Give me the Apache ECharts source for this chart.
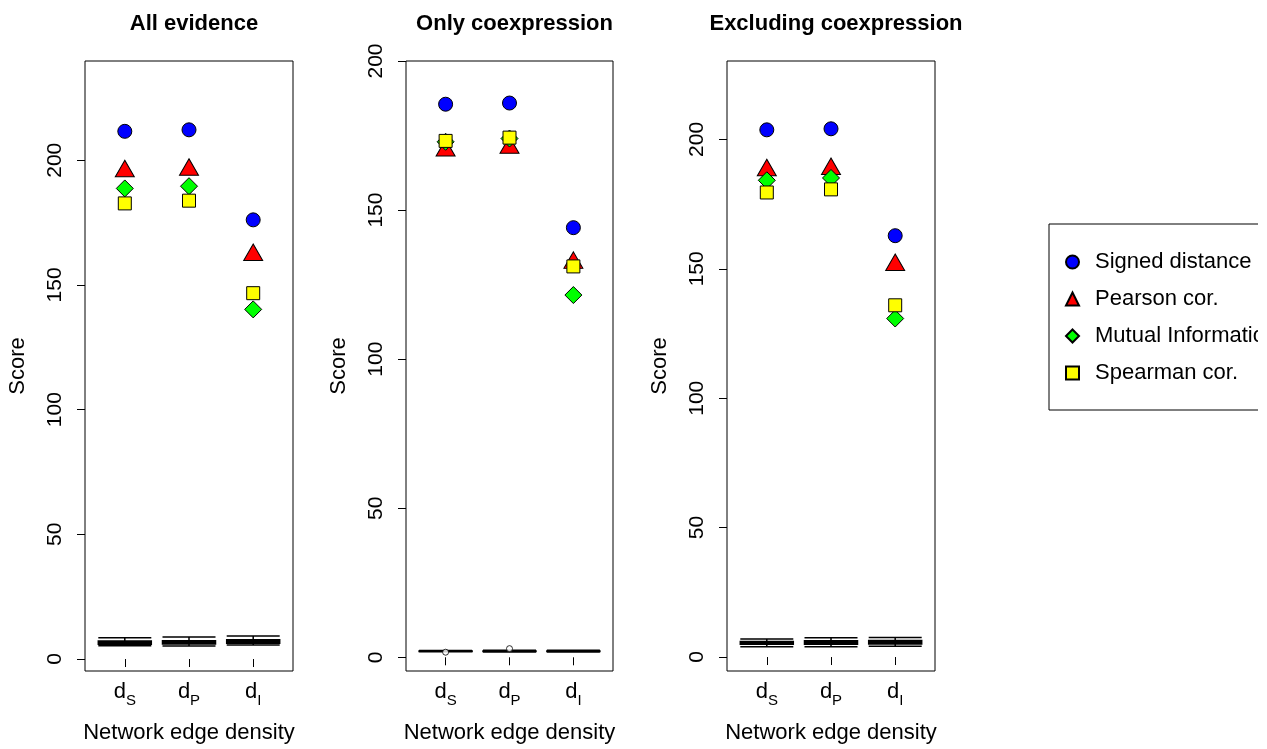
<!DOCTYPE html>
<html>
<head>
<meta charset="utf-8">
<script src="https://cdn.jsdelivr.net/npm/echarts@6/dist/echarts.min.js"></script>
<style>
  html, body { margin: 0; padding: 0; background: #fff; }
  #chart { width: 1267px; height: 749px; }
</style>
</head>
<body>
<div id="chart"></div>
<script>
  // categories on the x axis (edge density subscripts) and their positions
  const densitySubs = ['S', 'P', 'I']
  const xPos = [1, 2, 3]
  const yTicks = [0, 50, 100, 150, 200]

  const panelTitles = ['All evidence', 'Only coexpression', 'Excluding coexpression']
  const methodNames = ['Signed distance', 'Pearson cor.', 'Mutual Information', 'Spearman cor.']

  // scores, panel 1
  const allSigned = [211.6, 212.2, 176.1]
  const allPearson = [195.6, 196.2, 162.0]
  const allMutual = [188.7, 189.6, 140.2]
  const allSpearman = [182.7, 183.8, 146.7]
  // panel 2
  const coexSigned = [185.5, 185.9, 144.1]
  const coexPearson = [170.0, 170.9, 132.3]
  const coexMutual = [172.9, 174.0, 121.5]
  const coexSpearman = [173.2, 174.3, 131.1]
  // panel 3
  const exclSigned = [203.7, 204.1, 162.8]
  const exclPearson = [188.1, 188.6, 151.5]
  const exclMutual = [184.2, 185.1, 130.8]
  const exclSpearman = [179.5, 180.7, 135.9]

  // random network boxplots: min, Q1, median, Q3, max
  const allBoxes = [[5.3, 5.9, 6.5, 7.2, 8.5], [5.2, 6.0, 6.6, 7.3, 8.8], [5.6, 6.3, 7.0, 7.7, 9.2]]
  const coexBoxes = [[1.85, 1.95, 2.05, 2.15, 2.3], [1.8, 1.95, 2.05, 2.15, 2.35], [1.8, 1.95, 2.05, 2.15, 2.35]]
  const coexOutliers = [[1, 1.7], [2, 2.9]]
  const exclBoxes = [[4.0, 4.9, 5.5, 6.0, 7.0], [4.0, 4.9, 5.6, 6.3, 7.4], [4.2, 5.0, 5.8, 6.4, 7.5]]

  const font = '"Liberation Sans", Arial, Helvetica, sans-serif'

  const panels = [
    { scores: [allSigned, allPearson, allMutual, allSpearman], boxes: allBoxes, outliers: [],
      left: 85, width: 208, yMin: -4.8, yMax: 239.8 },
    { scores: [coexSigned, coexPearson, coexMutual, coexSpearman], boxes: coexBoxes, outliers: coexOutliers,
      left: 406, width: 207, yMin: -4.6, yMax: 200 },
    { scores: [exclSigned, exclPearson, exclMutual, exclSpearman], boxes: exclBoxes, outliers: [],
      left: 727, width: 208, yMin: -5.4, yMax: 230.3 }
  ]

  const markers = [
    { symbol: 'circle', size: 14, color: '#0000ff', offset: [0, 0] },
    { symbol: 'triangle', size: [19, 16.5], color: '#ff0000', offset: [0, -2.7] },
    { symbol: 'diamond', size: 17, color: '#00ff00', offset: [0, 0] },
    { symbol: 'rect', size: 13, color: '#ffff00', offset: [0, 0] }
  ]

  const grid = []
  const xAxis = []
  const yAxis = []
  const series = []
  const title = []

  panels.forEach((p, i) => {
    grid.push({
      left: p.left, top: 61, width: p.width, height: 613,
      show: true, borderColor: '#000', borderWidth: 1, backgroundColor: 'transparent'
    })
    title.push({
      text: panelTitles[i],
      left: p.left + p.width / 2, top: 8, textAlign: 'center',
      textStyle: { fontFamily: font, fontSize: 22, fontWeight: 'bold', color: '#000' }
    })
    xAxis.push({
      gridIndex: i, type: 'value', min: 0.38, max: 3.62,
      name: 'Network edge density', nameLocation: 'middle', nameGap: 51,
      nameTextStyle: { fontFamily: font, fontSize: 22, color: '#000' },
      axisLine: { show: false },
      splitLine: { show: false },
      axisTick: { show: true, length: 8, customValues: xPos, lineStyle: { color: '#000' } },
      axisLabel: {
        customValues: xPos, margin: 4,
        formatter: v => '{d|d}{s|' + densitySubs[v - 1] + '}',
        rich: {
          d: { fontFamily: font, fontSize: 22, color: '#000' },
          s: { fontFamily: font, fontSize: 15, color: '#000', padding: [18, 0, 0, 0] }
        }
      }
    })
    yAxis.push({
      gridIndex: i, type: 'value', min: p.yMin, max: p.yMax,
      name: 'Score', nameLocation: 'middle', nameGap: 56, nameRotate: 90,
      nameTextStyle: { fontFamily: font, fontSize: 22, color: '#000' },
      axisLine: { show: false },
      splitLine: { show: false },
      axisTick: { show: true, length: 8, customValues: yTicks, lineStyle: { color: '#000' } },
      axisLabel: {
        customValues: yTicks, rotate: 90, margin: 19,
        fontFamily: font, fontSize: 21, color: '#000'
      }
    })

    series.push({
      type: 'boxplot', xAxisIndex: i, yAxisIndex: i,
      boxWidth: [53, 53],
      itemStyle: { color: '#000', borderColor: '#000', borderWidth: 1.5 },
      emphasis: { disabled: true },
      data: p.boxes.map((b, j) => [xPos[j]].concat(b))
    })
    if (p.outliers.length) {
      series.push({
        type: 'scatter', xAxisIndex: i, yAxisIndex: i,
        symbol: 'circle', symbolSize: 6,
        itemStyle: { color: '#fff', borderColor: '#000', borderWidth: 1 },
        data: p.outliers
      })
    }
    p.scores.forEach((vals, k) => {
      const m = markers[k]
      series.push({
        name: methodNames[k],
        type: 'scatter', xAxisIndex: i, yAxisIndex: i,
        symbol: m.symbol, symbolSize: m.size, symbolOffset: m.offset,
        itemStyle: { color: m.color, borderColor: '#000', borderWidth: 1, opacity: 1 },
        emphasis: { disabled: true },
        data: vals.map((v, j) => [xPos[j], v])
      })
    })
  })

  const chart = echarts.init(document.getElementById('chart'))
  chart.setOption({
    animation: false,
    title: title,
    grid: grid,
    xAxis: xAxis,
    yAxis: yAxis,
    legend: {
      data: methodNames,
      orient: 'vertical',
      left: 1049, top: 224,
      padding: [27, 20, 26, 16],
      itemWidth: 13, itemHeight: 13, itemGap: 15,
      borderColor: '#000', borderWidth: 1,
      selectedMode: false,
      textStyle: { fontFamily: font, fontSize: 22, color: '#000', lineHeight: 22, padding: [0, 0, 0, 11] }
    },
    // the legend box runs off the figure's right edge, as in the original device clip
    graphic: [{
      type: 'rect', left: 1258, top: 0, z: 100,
      shape: { width: 9, height: 749 },
      style: { fill: '#fff' }
    }],
    series: series
  })
</script>
</body>
</html>
